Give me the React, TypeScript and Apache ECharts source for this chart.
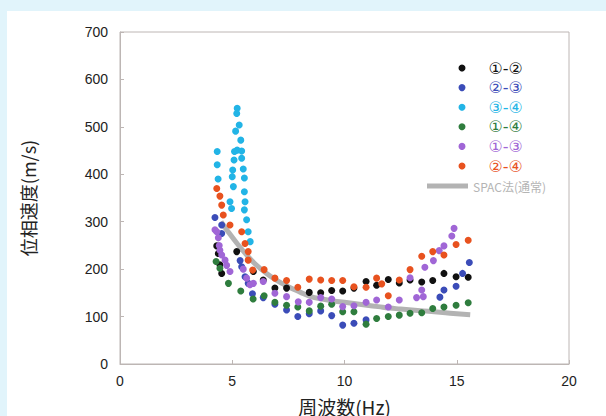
import React, { useEffect, useRef } from "react";
import * as echarts from "echarts";

const xTicks = { min: 0, max: 20, interval: 5 };
const yTicks = { min: 0, max: 700, interval: 100 };

const names = ["①-②", "②-③", "③-④", "①-④", "①-③", "②-④"];
const colors = ["#111111", "#3b4cb8", "#22b4e6", "#2f7d3e", "#a066d6", "#e8521f"];
const spacName = "SPAC法(通常)";

const s12 = [
  [4.31, 249], [4.38, 233], [4.45, 209], [4.53, 191], [5.2, 237], [5.94, 195], [6.38, 177],
  [6.9, 160], [7.42, 160], [8.43, 151], [8.94, 150], [9.43, 155], [9.92, 154], [10.42, 160],
  [10.96, 174], [11.43, 166], [11.95, 178], [12.44, 171], [12.92, 177], [13.44, 173],
  [13.93, 176], [14.43, 191], [14.97, 184], [15.51, 183],
];
const s23 = [
  [4.23, 309], [4.53, 293], [4.53, 275], [5.35, 218], [5.42, 205], [5.57, 184], [5.71, 170],
  [5.9, 148], [6.38, 140], [6.9, 126], [7.42, 114], [7.92, 100], [8.43, 106], [8.94, 112],
  [9.43, 102], [9.92, 82], [10.42, 86], [10.96, 93], [14.25, 141], [14.43, 156], [14.97, 164],
  [15.26, 191], [15.56, 214],
];
const s34 = [
  [4.33, 448], [4.33, 420], [4.37, 390], [5.1, 448], [5.08, 430], [5.02, 409], [5.0, 395],
  [5.05, 374], [4.9, 342], [4.97, 328], [5.22, 539], [5.2, 528], [5.31, 504], [5.15, 491],
  [5.38, 472], [5.22, 451], [5.42, 449], [5.42, 434], [5.49, 411], [5.54, 392], [5.54, 363],
  [5.57, 342], [5.54, 325], [5.64, 304], [5.71, 279], [5.8, 258],
];
const s14 = [
  [4.28, 216], [4.45, 202], [4.83, 170], [5.38, 154], [5.93, 137], [6.42, 144], [6.9, 130],
  [7.42, 124], [7.92, 120], [8.43, 112], [8.94, 122], [9.43, 126], [9.92, 110], [10.42, 110],
  [10.96, 84], [11.43, 96], [11.95, 100], [12.44, 103], [12.92, 107], [13.44, 108],
  [13.93, 117], [14.43, 120], [14.97, 124], [15.51, 129],
];
const s13 = [
  [4.23, 283], [4.31, 279], [4.38, 266], [4.42, 250], [4.45, 240], [4.53, 230], [4.68, 219],
  [4.75, 208], [4.9, 195], [5.49, 200], [5.64, 181], [5.79, 167], [5.94, 170], [6.38, 174],
  [6.9, 149], [7.42, 142], [7.94, 131], [8.43, 130], [8.94, 140], [9.43, 137], [9.92, 121],
  [10.42, 123], [10.96, 130], [11.43, 135], [11.95, 120], [12.44, 135], [12.92, 182],
  [13.21, 140], [13.44, 156], [13.51, 142], [13.58, 204], [13.96, 218], [14.22, 239],
  [14.43, 249], [14.78, 270], [14.88, 286],
];
const s24 = [
  [4.31, 370], [4.45, 354], [4.53, 335], [4.6, 314], [4.9, 293], [5.42, 279], [5.57, 254],
  [5.71, 237], [5.71, 219], [5.91, 198], [6.42, 199], [6.9, 181], [7.42, 176], [7.92, 162],
  [8.43, 179], [8.94, 177], [9.43, 176], [9.92, 176], [10.42, 163], [10.96, 162],
  [11.43, 181], [11.66, 169], [11.95, 144], [12.44, 177], [12.92, 199], [13.44, 227],
  [13.93, 237], [14.43, 230], [14.97, 252], [15.51, 261],
];
const spac = [
  [4.5, 300], [4.8, 280], [5.2, 255], [5.6, 232], [6.0, 212], [6.5, 192], [7.0, 176],
  [7.5, 163], [8.0, 152], [8.5, 142], [9.0, 137], [9.5, 133], [10.0, 130], [10.5, 127],
  [11.0, 124], [11.5, 121], [12.0, 118], [12.5, 116], [13.0, 114], [13.5, 112], [14.0, 110],
  [14.5, 108], [15.0, 106], [15.6, 104],
];

const scatterData = [s12, s23, s34, s14, s13, s24];

export default function App() {
  const ref = useRef<HTMLDivElement>(null);
  useEffect(() => {
    if (!ref.current) return;
    const chart = echarts.init(ref.current, null, { renderer: "svg" });
    const numFont = "'Liberation Sans', Arial, sans-serif";
    const cjkFont = "'Noto Sans CJK JP', 'Noto Sans', sans-serif";
    chart.setOption({
      animation: false,
      backgroundColor: "#e1f4fb",
      graphic: [
        {
          type: "rect",
          z: -10,
          silent: true,
          shape: { x: 7, y: 11, width: 606, height: 420 },
          style: { fill: "#ffffff" },
        },
      ],
      grid: {
        left: 120,
        right: 37,
        top: 32,
        bottom: 52,
        outerBoundsMode: "none",
        containLabel: false,
        show: true,
        borderColor: "#bdb6b4",
        borderWidth: 1,
        backgroundColor: "transparent",
      },
      legend: [
        {
          orient: "vertical",
          left: 458.5,
          top: 59.5,
          padding: 0,
          itemWidth: 7,
          itemHeight: 7,
          itemGap: 2.6,
          icon: "circle",
          selectedMode: false,
          textStyle: {
            fontSize: 16,
            lineHeight: 17,
            fontFamily: "'DejaVu Sans', sans-serif",
            padding: [0, 0, 0, 18],
          },
          data: names.map((n, i) => ({ name: n, textStyle: { color: colors[i] } })),
        },
        {
          orient: "vertical",
          left: 427,
          top: 180,
          padding: 0,
          itemWidth: 41,
          itemHeight: 5,
          icon: "rect",
          selectedMode: false,
          textStyle: { fontSize: 12, color: "#b4b4b4", fontFamily: cjkFont },
          data: [{ name: spacName }],
        },
      ],
      xAxis: {
        type: "value",
        ...xTicks,
        name: "周波数(Hz)",
        nameLocation: "middle",
        nameGap: 33,
        nameTextStyle: { fontSize: 19, color: "#222", fontFamily: cjkFont },
        axisLine: { lineStyle: { color: "#bdb6b4" } },
        axisTick: { inside: true, length: 4, lineStyle: { color: "#bdb6b4" } },
        splitLine: { show: false },
        axisLabel: { fontSize: 14, color: "#222", margin: 10, fontFamily: numFont },
      },
      yAxis: {
        type: "value",
        ...yTicks,
        name: "位相速度(m/s)",
        nameLocation: "middle",
        nameGap: 83,
        nameRotate: 90,
        nameTextStyle: { fontSize: 18, color: "#222", fontFamily: cjkFont },
        axisLine: { show: true, lineStyle: { color: "#bdb6b4" } },
        axisTick: { show: true, inside: true, length: 4, lineStyle: { color: "#bdb6b4" } },
        splitLine: { show: false },
        axisLabel: { fontSize: 14, color: "#222", margin: 12, fontFamily: numFont },
      },
      series: [
        {
          name: spacName,
          type: "line",
          data: spac,
          symbol: "none",
          smooth: true,
          z: 1,
          color: "#b3b3b3",
          lineStyle: { width: 5, color: "#b3b3b3" },
        },
        ...scatterData.map((d, i) => ({
          name: names[i],
          type: "scatter",
          data: d,
          symbolSize: 7,
          z: 2 + i,
          itemStyle: { color: colors[i], opacity: 1 },
        })),
      ],
    });
    return () => chart.dispose();
  }, []);
  return (
    <div
      ref={ref}
      style={{ position: "fixed", left: 0, top: 0, width: 606, height: 416 }}
    />
  );
}
